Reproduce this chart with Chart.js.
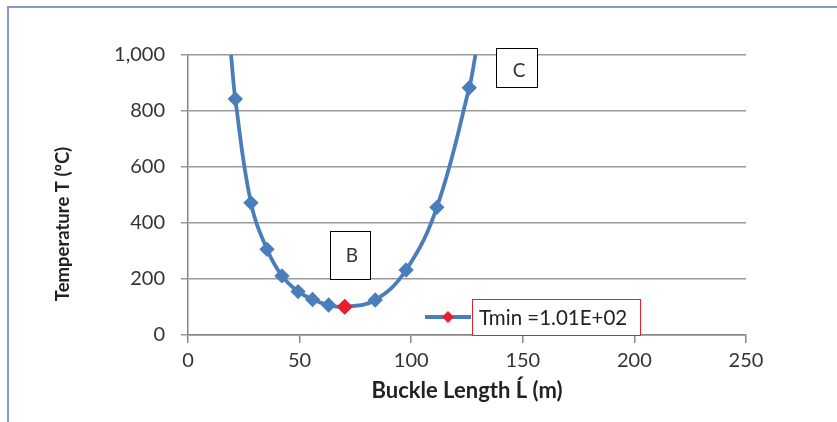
<!DOCTYPE html>
<html>
<head>
<meta charset="utf-8">
<script src="https://cdn.jsdelivr.net/npm/chart.js@4/dist/chart.umd.min.js"></script>
<style>
  html, body { margin: 0; padding: 0; background: #fff; }
  #wrap { width: 837px; height: 422px; position: relative; }
</style>
</head>
<body>
<div id="wrap"><canvas id="myChart" width="837" height="422"></canvas></div>
<script>
// buckle length (m) vs temperature (oC)
var lengthValues = [19.3, 21.2, 28.2, 35.4, 42.1, 49.3, 55.8, 63.0, 70.2, 83.9, 97.7, 111.5, 126.0, 128.8];
var tempValues   = [1000, 843, 472, 306, 211, 155, 127, 107, 101, 125, 232, 456, 883, 1000];
var minLength = [70.2];
var minTemp = [101];
var yTicks = [0, 200, 400, 600, 800, 1000];
var legendLabel = "Tmin =1.01E+02";

var curve = lengthValues.map(function (x, i) { return { x: x, y: tempValues[i] }; });
var minPoint = minLength.map(function (x, i) { return { x: x, y: minTemp[i] }; });

var blue = '#4A7EBB';
var font = 'Lato, "Open Sans", sans-serif';

// frame, text boxes, y title and legend, drawn on top
var extras = {
    id: 'extras',
    afterDraw: function (chart) {
        var ctx = chart.ctx;
        ctx.save();
        // outer frame
        ctx.strokeStyle = '#8796CF';
        ctx.lineWidth = 2;
        ctx.beginPath();
        ctx.moveTo(8, 422);
        ctx.lineTo(8, 7);
        ctx.lineTo(837, 7);
        ctx.stroke();

        // text boxes
        ctx.strokeStyle = '#000';
        ctx.lineWidth = 1;
        ctx.fillStyle = '#fff';
        ctx.font = '19px ' + font;
        ctx.textAlign = 'center';
        ctx.textBaseline = 'middle';
        ctx.fillRect(330.5, 231.5, 40, 48);
        ctx.strokeRect(330.5, 231.5, 40, 48);
        ctx.fillStyle = '#333';
        ctx.fillText('B', 352, 256);
        ctx.fillStyle = '#fff';
        ctx.fillRect(496.5, 48.5, 41, 39);
        ctx.strokeRect(496.5, 48.5, 41, 39);
        ctx.fillStyle = '#333';
        ctx.fillText('C', 519, 71);

        // y axis title
        ctx.save();
        ctx.translate(63, 224);
        ctx.rotate(-Math.PI / 2);
        ctx.font = 'bold 18.5px ' + font;
        ctx.fillStyle = '#222';
        ctx.fillText('Temperature T (\u00BAC)', 0, 0);
        ctx.restore();

        // legend
        ctx.strokeStyle = blue;
        ctx.lineWidth = 4;
        ctx.beginPath();
        ctx.moveTo(425, 317);
        ctx.lineTo(471, 317);
        ctx.stroke();
        ctx.fillStyle = '#E8202A';
        ctx.beginPath();
        ctx.moveTo(448, 311);
        ctx.lineTo(454, 317);
        ctx.lineTo(448, 323);
        ctx.lineTo(442, 317);
        ctx.closePath();
        ctx.fill();
        ctx.strokeStyle = '#E8202A';
        ctx.lineWidth = 1;
        ctx.fillStyle = '#fff';
        ctx.fillRect(472.5, 299.5, 168, 36);
        ctx.strokeRect(472.5, 299.5, 168, 36);
        ctx.fillStyle = '#222';
        ctx.textAlign = 'left';
        ctx.font = '20.5px ' + font;
        ctx.fillText(legendLabel, 479, 318);
        ctx.restore();
    }
};

new Chart("myChart", {
    type: "scatter",
    data: {
        datasets: [{
            label: "Temperature",
            data: curve,
            showLine: true,
            borderColor: blue,
            borderWidth: 3.8,
            tension: 0.4,
            pointStyle: 'rectRot',
            pointRadius: function (c) { return c.raw && c.raw.y >= 1000 ? 0 : 5; },
            pointBackgroundColor: blue,
            pointBorderColor: blue,
            order: 2
        }, {
            label: legendLabel,
            data: minPoint,
            pointStyle: 'rectRot',
            pointRadius: 7.5,
            pointBackgroundColor: '#E8202A',
            pointBorderColor: '#E8202A',
            order: 1
        }]
    },
    options: {
        responsive: false,
        animation: false,
        layout: { padding: { top: 55, right: 91, left: 0, bottom: 14 } },
        plugins: {
            legend: { display: false },
            tooltip: { enabled: false }
        },
        scales: {
            x: {
                type: 'linear',
                min: 0,
                max: 250,
                ticks: { stepSize: 50, color: '#333', font: { family: font, size: 20 }, padding: 6 },
                grid: { display: true, drawOnChartArea: false, drawTicks: true, tickLength: 8, color: '#868686', lineWidth: 1.5 },
                border: { color: '#868686', width: 1.5 },
                title: {
                    display: true,
                    text: 'Buckle Length \u0139 (m)',
                    color: '#222',
                    font: { family: font, size: 22, weight: 'bold' },
                    padding: { top: 0, bottom: 4 }
                },
                afterFit: function (s) { s.height = 73; }
            },
            y: {
                min: 0,
                max: 1000,
                afterBuildTicks: function (s) { s.ticks = yTicks.map(function (v) { return { value: v }; }); },
                ticks: {
                    color: '#333',
                    font: { family: font, size: 20 },
                    padding: 16,
                    callback: function (v) { return v.toLocaleString('en-US'); }
                },
                grid: { color: '#9A9A9A', lineWidth: 1.5, tickLength: 7 },
                border: { color: '#868686', width: 1.5 },
                afterFit: function (s) { s.width = 188; }
            }
        }
    },
    plugins: [extras]
});
</script>
</body>
</html>
